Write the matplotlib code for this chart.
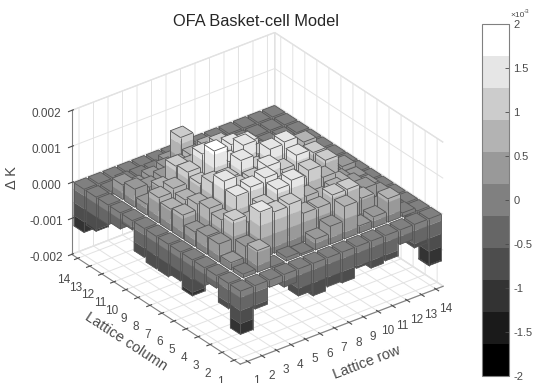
import numpy as np
import matplotlib
matplotlib.use('Agg')
import matplotlib.pyplot as plt
from matplotlib.colors import ListedColormap, Normalize
from matplotlib.cm import ScalarMappable
from mpl_toolkits.mplot3d.art3d import Poly3DCollection, Line3DCollection

plt.rcParams['font.family'] = ['Liberation Sans', 'DejaVu Sans']
plt.rcParams['grid.color'] = '#e2e2e2'
plt.rcParams['grid.linewidth'] = 0.7
plt.rcParams['axes.edgecolor'] = '#808080'

text_color = '#4a4a4a'
title = 'OFA Basket-cell Model'
rows = list(range(1, 15))
columns = list(range(1, 15))
z_ticks = [-0.002, -0.001, 0.0, 0.001, 0.002]
z_tick_labels = ['-0.002', '-0.001', '0.000', '0.001', '0.002']
cbar_ticks = [-2, -1.5, -1, -0.5, 0, 0.5, 1, 1.5, 2]
cbar_tick_labels = ['-2', '-1.5', '-1', '-0.5', '0', '0.5', '1', '1.5', '2']
grays = [0.0, 0.1, 0.2, 0.3, 0.4, 0.5, 0.6, 0.7, 0.8, 0.9, 1.0]

# unit 1e-3, one list per lattice row, column 1 to 14
delta_k = [
    [-1.2, -0.7, -0.35, -0.5, -1.0, -0.8, -0.9, -0.9, -0.8, -0.25, -0.45, -0.55, -0.95, -1.2],
    [-0.65, 0.1, 0.2, 0.5, 0.5, 0.4, 0.65, 0.6, 0.7, 0.3, 0.5, 0.4, -0.1, -0.3],
    [-0.2, 0.6, 0.5, 1.0, 0.8, 0.9, 0.8, 0.7, 0.8, 0.6, 0.4, 0.2, 0.1, -0.3],
    [-0.35, -0.05, 1.3, 0.8, 1.3, 1.5, 1.25, 1.0, 1.1, 1.05, 0.5, 0.3, 0.1, -0.3],
    [-0.75, 0.1, 1.15, 1.1, 1.4, 1.2, 1.2, 1.75, 1.45, 0.9, 0.7, 0.4, 0.1, -0.4],
    [-0.9, 0.05, 1.2, 1.4, 1.5, 1.25, 1.55, 1.3, 1.25, 1.1, 0.8, 1.1, 0.2, -0.3],
    [-0.8, 0.3, 0.8, 1.5, 1.1, 1.45, 1.2, 1.6, 1.4, 1.2, 0.9, 0.4, 0.1, -0.4],
    [-0.85, 0.5, 0.8, 0.9, 1.1, 1.2, 1.55, 1.2, 1.3, 1.0, 0.6, 0.3, 0.1, -0.3],
    [-0.6, 0.9, 1.0, 0.7, 1.25, 1.45, 1.6, 1.1, 0.9, 0.7, 0.5, 0.3, 0.1, -0.3],
    [-0.75, 0.2, 1.0, 0.8, 0.9, 0.8, 0.7, 0.9, 0.6, 0.4, 0.2, 0.1, -0.1, -0.3],
    [-0.7, 0.3, 0.6, 0.5, 0.6, 1.0, 1.0, 0.4, 0.3, 0.2, 0.1, 0.0, -0.1, -0.3],
    [-0.4, 0.65, 0.2, 0.5, 0.4, 0.3, 0.3, 0.2, 0.7, 0.1, 0.0, -0.1, -0.2, -0.3],
    [-0.65, 0.1, 0.1, 0.2, 0.2, 0.2, 0.3, 0.1, 0.1, 0.0, -0.1, -0.1, -0.2, -0.3],
    [-1.3, -0.4, -0.4, -0.3, -0.3, -0.3, -0.3, -0.3, -0.3, -0.3, -0.3, -0.3, -0.3, -0.4],
]

cmap = ListedColormap([(g, g, g) for g in grays])
norm = Normalize(-0.002, 0.002)
levels = np.linspace(-0.002, 0.002, len(grays) + 1)
bar_width = 0.86


def band_color(z):
    return cmap(norm(np.clip(z, -0.002, 0.002)))


def draw_bar(ax, r, c, value, order):
    '''
    one bar from 0 to value, sides cut into colormap bands, only the faces the camera sees
    '''
    x0, x1 = r - bar_width / 2, r + bar_width / 2
    y0, y1 = c - bar_width / 2, c + bar_width / 2
    lo, hi = min(0, value), max(0, value)
    cuts = [lo] + [l for l in levels if lo < l < hi] + [hi]
    polys, colors = [], []
    for a, b in zip(cuts[:-1], cuts[1:]):
        col = band_color((a + b) / 2)
        polys.append([(x0, y0, a), (x1, y0, a), (x1, y0, b), (x0, y0, b)])
        polys.append([(x0, y0, a), (x0, y1, a), (x0, y1, b), (x0, y0, b)])
        colors += [col, col]
    polys.append([(x0, y0, hi), (x1, y0, hi), (x1, y1, hi), (x0, y1, hi)])
    colors.append(band_color(hi))
    faces = Poly3DCollection(polys, facecolors=colors, edgecolors=colors, linewidths=0.15)
    faces.set_zorder(order)
    ax.add_collection3d(faces, autolim=False)
    edges = [
        [(x0, y0, lo), (x0, y0, hi)], [(x1, y0, lo), (x1, y0, hi)], [(x0, y1, lo), (x0, y1, hi)],
        [(x0, y0, lo), (x1, y0, lo)], [(x0, y0, lo), (x0, y1, lo)],
        [(x0, y0, hi), (x1, y0, hi)], [(x1, y0, hi), (x1, y1, hi)],
        [(x1, y1, hi), (x0, y1, hi)], [(x0, y1, hi), (x0, y0, hi)],
    ]
    lines = Line3DCollection(edges, colors='#555555', linewidths=0.6)
    lines.set_zorder(order + 0.5)
    ax.add_collection3d(lines, autolim=False)


fig = plt.figure(figsize=(5.34, 3.83), dpi=100)
ax = fig.add_axes([12 / 534, -12 / 383, 0.9, 1.0], projection='3d', computed_zorder=False)
ax.set_proj_type('ortho')
ax.view_init(elev=30, azim=-127.5)
ax.set_box_aspect((257, 278, 167), zoom=1.044)

# far bars first so the near ones paint over them
order = 10
for i in range(len(rows) - 1, -1, -1):
    for j in range(len(columns) - 1, -1, -1):
        draw_bar(ax, rows[i], columns[j], delta_k[i][j] * 1e-3, order)
        order += 1

ax.set_xlim(0.5, 14.5, view_margin=0)
ax.set_ylim(0.5, 14.5, view_margin=0)
ax.set_zlim(-0.002, 0.002, view_margin=0)
ax.set_xticks(rows)
ax.set_yticks(columns)
ax.set_zticks(z_ticks)
ax.set_zticklabels(z_tick_labels)
ax.zaxis.set_ticks_position('upper')
ax.zaxis.set_label_position('upper')
ax.tick_params(labelsize=8.5, colors=text_color)
ax.tick_params(axis='x', pad=0)
ax.tick_params(axis='y', pad=2)
ax.tick_params(axis='z', pad=2)
ax.set_xlabel('Lattice row', fontsize=10.5, color=text_color, labelpad=0)
ax.set_ylabel('Lattice column', fontsize=10.5, color=text_color, labelpad=0)
ax.zaxis.set_rotate_label(False)
ax.set_zlabel('\u0394 K', fontsize=10.5, color=text_color, labelpad=2, rotation=90)
for axis in (ax.xaxis, ax.yaxis, ax.zaxis):
    axis.set_pane_color((1, 1, 1, 1))
    axis.pane.set_edgecolor('#e2e2e2')
    axis.line.set_color('#808080')

fig.text(256 / 534, 1 - 21 / 383, title, ha='center', va='center', fontsize=11.8, color='#262626')

cax = fig.add_axes([482 / 534, 1 - 376 / 383, 27 / 534, 352 / 383])
sm = ScalarMappable(norm=Normalize(-2, 2), cmap=cmap)
cb = fig.colorbar(sm, cax=cax)
cb.set_ticks(cbar_ticks)
cb.set_ticklabels(cbar_tick_labels)
cb.ax.tick_params(labelsize=8, colors=text_color, direction='in', length=3, width=0.6, pad=3)
cb.outline.set_edgecolor('#808080')
fig.text(510 / 534, 1 - 17 / 383, '\u00d710', fontsize=6, color=text_color, ha='left', va='baseline')
fig.text(524 / 534, 1 - 13 / 383, '-3', fontsize=4.5, color=text_color, ha='left', va='baseline')

fig.savefig('out.png', dpi=100)
